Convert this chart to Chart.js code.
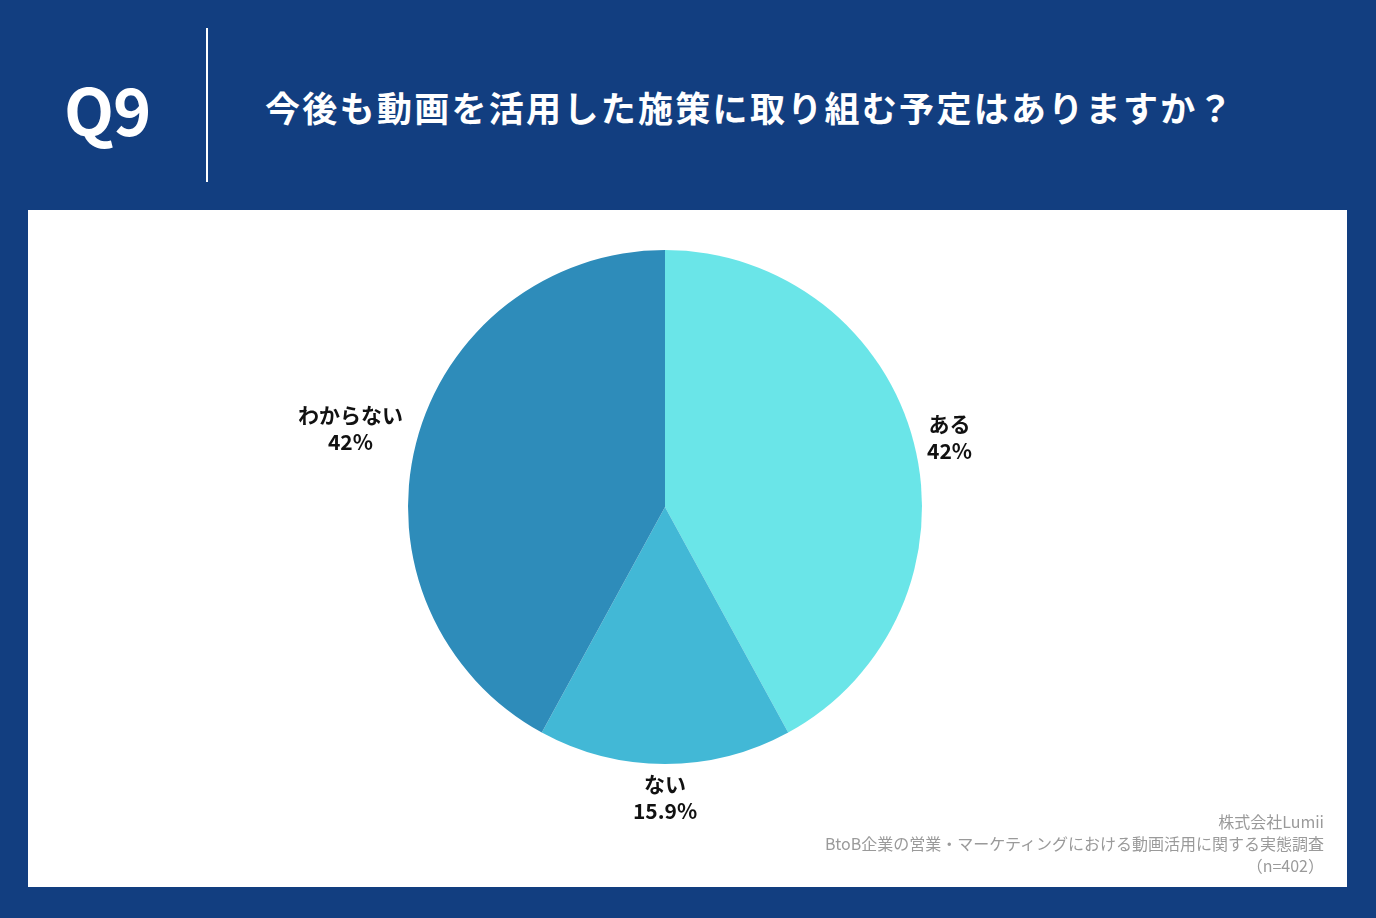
<!DOCTYPE html>
<html>
<head>
<meta charset="utf-8">
<script src="https://cdn.jsdelivr.net/npm/chart.js@4"></script>
<style>
  html, body { margin: 0; padding: 0; }
  body { width: 1376px; height: 918px; background: #123e80; position: relative; overflow: hidden;
         font-family: "Noto Sans CJK JP", "Noto Sans", sans-serif; }
  #q { position: absolute; left: 64px; top: 63px; color: #fff; font-weight: 700; font-size: 65px; line-height: 90px; letter-spacing: -1px; }
  #bar { position: absolute; left: 206px; top: 28px; width: 2px; height: 154px; background: #fff; }
  #title { position: absolute; left: 265px; top: 82px; color: #fff; font-weight: 700; font-size: 35px; line-height: 50px; letter-spacing: 2.3px; white-space: nowrap; }
  #panel { position: absolute; left: 28px; top: 210px; width: 1319px; height: 677px; background: #fff; }
  #wrap { position: absolute; left: 265px; top: 207px; width: 800px; height: 660px; }
  #note { position: absolute; right: 52px; top: 810px; color: #9a9a9a; font-size: 16px; line-height: 22px; text-align: right; }
</style>
</head>
<body>
<div id="q">Q9</div>
<div id="bar"></div>
<div id="title">今後も動画を活用した施策に取り組む予定はありますか？</div>
<div id="panel"></div>
<div id="wrap"><canvas id="myChart"></canvas></div>
<div id="note">株式会社Lumii<br>BtoB企業の営業・マーケティングにおける動画活用に関する実態調査<br>（n=402）</div>
<script>
const labels = ['ある', 'ない', 'わからない'];
const values = [42, 15.9, 42];
const valueText = ['42%', '15.9%', '42%'];
const colors = ['#6ae5e8', '#42b8d6', '#2e8cba'];

// labels outside the slices
const outsideLabels = {
  id: 'outsideLabels',
  afterDatasetsDraw(chart) {
    const ctx = chart.ctx;
    const meta = chart.getDatasetMeta(0);
    ctx.save();
    ctx.font = 'bold 21px "Noto Sans CJK JP"';
    ctx.fillStyle = '#111';
    ctx.textAlign = 'center';
    ctx.textBaseline = 'middle';
    meta.data.forEach((arc, i) => {
      const mid = (arc.startAngle + arc.endAngle) / 2;
      const d = arc.outerRadius + 32;
      let x = arc.x + Math.cos(mid) * d;
      let y = arc.y + Math.sin(mid) * d + 2;
      const halfW = Math.max(ctx.measureText(labels[i]).width, ctx.measureText(valueText[i]).width) / 2;
      x += Math.sign(Math.round(Math.cos(mid) * 100)) * Math.max(0, halfW - 18);
      y -= Math.max(0, halfW - 30) * 0.4;
      ctx.fillText(labels[i], x, y - 13);
      ctx.fillText(valueText[i], x, y + 14);
    });
    ctx.restore();
  }
};

const ctx = document.getElementById('myChart').getContext('2d');
new Chart(ctx, {
  type: 'pie',
  data: {
    labels: labels,
    datasets: [{
      data: values,
      backgroundColor: colors,
      borderWidth: 0,
    }]
  },
  options: {
    responsive: true,
    maintainAspectRatio: false,
    animation: false,
    layout: { padding: { left: 143, right: 143, top: 43, bottom: 103 } },
    plugins: {
      legend: { display: false },
      tooltip: { enabled: false },
    }
  },
  plugins: [outsideLabels]
});
</script>
</body>
</html>
